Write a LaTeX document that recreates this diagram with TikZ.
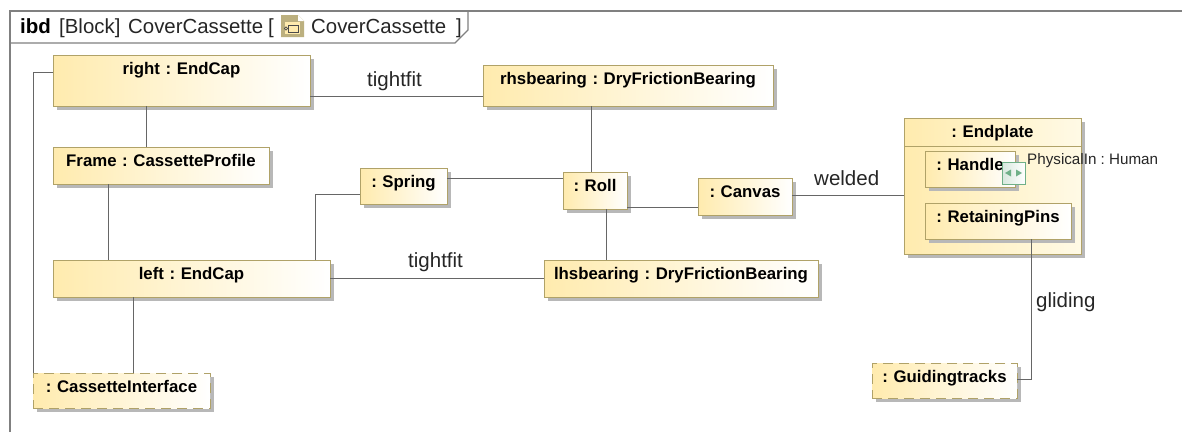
\documentclass[tikz,border=0pt]{standalone}
\usepackage{fontspec}
\setmainfont{Liberation Sans}
\usetikzlibrary{shadows}
\frenchspacing
\definecolor{edge}{HTML}{B0A268}
\definecolor{warm}{HTML}{FFEBAE}
\definecolor{warmlight}{HTML}{FFFAE6}
\definecolor{shadowgray}{HTML}{B8B8B8}
\definecolor{linegray}{HTML}{666666}
\definecolor{framegray}{HTML}{808080}
\definecolor{portgreen}{HTML}{6FB088}
\definecolor{portfill}{HTML}{D8E8DE}
\tikzset{
  x=1pt,y=-1pt,
  partbox/.style={draw=edge,line width=1pt,left color=warm,right color=white,
    inner sep=0pt,outer sep=0pt,anchor=north west,align=center,
    font=\fontsize{16.8}{19}\bfseries\selectfont,
    drop shadow={shadow xshift=3.5pt,shadow yshift=-3.5pt,fill=shadowgray,opacity=1}},
  ifacebox/.style={partbox,dash pattern=on 10pt off 6pt},
  link/.style={draw=linegray,line width=1pt},
  connlabel/.style={font=\fontsize{20.5}{23}\selectfont,text=black!85,inner sep=0pt,anchor=base west},
  headtext/.style={font=\fontsize{20.4}{23}\selectfont,text=black!85,inner sep=0pt,anchor=base west},
}
\newcommand{\partnode}[7][partbox]{%
  \pgfmathsetmacro{\pw}{#5-#3}\pgfmathsetmacro{\ph}{#6-#4}\pgfmathsetmacro{\pd}{\ph-19.5}%
  \node[#1,text width=\pw pt,text height=19.5pt,text depth=\pd pt] (#2) at (#3,#4) {#7};}
\begin{document}
\begin{tikzpicture}
\useasboundingbox (0,0) rectangle (1182,432);
\fill[white] (0,0) rectangle (1182,432);
% diagram frame
\coordinate (fbl) at (10,432);
\coordinate (ftr) at (1182,11);
\coordinate (ftl) at (10,11);
\coordinate (hn1) at (10,43);
\coordinate (hn2) at (455,43);
\coordinate (hn3) at (468,30);
\coordinate (hn4) at (468,11);
\draw[framegray,line width=1.1pt] (fbl) -- (ftl) -- (ftr);
\draw[framegray,line width=1.1pt] (hn1) -- (hn2) -- (hn3) -- (hn4);
\node[headtext,font=\fontsize{20.5}{23}\bfseries\selectfont,text=black] (hibd) at (20,33) {ibd};
\node[headtext] (hblock) at (59,33) {[Block]};
\node[headtext] (hname) at (128,33) {CoverCassette};
\node[headtext] (hbr) at (268,33) {[};
\node[headtext] (hname2) at (311,33) {CoverCassette};
\node[headtext] (hbr2) at (456,33) {]};
% header icon
\fill[fill=edge!85] (281,15) -- (298,15) -- (304,21) -- (304,37) -- (281,37) -- cycle;
\fill[white] (298,15) -- (304,21) -- (298,21) -- cycle;
\fill[warm] (285,22) rectangle (300,34);
\draw[black!70,line width=.7pt] (288,25) rectangle (298,32);
\draw[black!70,line width=.7pt,fill=warm] (286,28.5) circle (1.6);
% parts
\partnode{right}{53}{55}{310}{106}{right : EndCap}
\partnode{frameprof}{53}{147}{269}{184}{Frame : CassetteProfile}
\partnode{spring}{360}{168}{447}{204}{: Spring}
\partnode{leftcap}{53}{260}{330}{297}{left : EndCap}
\partnode[ifacebox]{cassette}{33}{373}{210}{408}{: CassetteInterface}
\partnode{rhs}{483}{65}{773}{106}{rhsbearing : DryFrictionBearing}
\partnode{roll}{563}{172}{627}{209}{: Roll}
\partnode{canvas}{698}{178}{792}{215}{: Canvas}
\partnode{lhs}{544}{260}{818}{297}{lhsbearing : DryFrictionBearing}
\partnode[partbox,right color=warmlight]{endplate}{904}{118}{1081}{254}{: Endplate}
\draw[edge,line width=1pt] (endplate.west |- 0,146) -- (endplate.east |- 0,146);
\partnode{handle}{925}{151}{1015}{187}{: Handle}
\partnode{pins}{925}{203}{1071}{239}{: RetainingPins}
\partnode[ifacebox]{tracks}{872}{363}{1017}{398}{: Guidingtracks}
% port
\node[draw=portgreen,line width=1pt,left color=portfill,right color=white,inner sep=0pt,outer sep=0pt,
  minimum width=23pt,minimum height=22pt,anchor=north west] (port) at (1002,162) {};
\fill[portgreen] (1005,173) -- (1011,169.5) -- (1011,176.5) -- cycle;
\fill[portgreen] (1022,173) -- (1016,169.5) -- (1016,176.5) -- cycle;
\node[font=\fontsize{15.2}{17}\selectfont,text=black!85,inner sep=0pt,anchor=base west] (portlabel) at (1027,164) {PhysicalIn : Human};
% connectors
\draw[link] (right.west |- 0,72) -- (33,72) -- (33,0 |- cassette.north);
\draw[link] (146,0 |- right.south) -- (146,0 |- frameprof.north);
\draw[link] (108,0 |- frameprof.south) -- (108,0 |- leftcap.north);
\draw[link] (133,0 |- leftcap.south) -- (133,0 |- cassette.north);
\draw[link] (315,0 |- leftcap.north) -- (315,194) -- (spring.west |- 0,194);
\draw[link] (spring.east |- 0,178) -- (roll.west |- 0,178);
\draw[link] (right.east |- 0,96) -- (rhs.west |- 0,96);
\draw[link] (leftcap.east |- 0,278) -- (lhs.west |- 0,278);
\draw[link] (591,0 |- rhs.south) -- (591,0 |- roll.north);
\draw[link] (606,0 |- roll.south) -- (606,0 |- lhs.north);
\draw[link] (roll.east |- 0,207) -- (canvas.west |- 0,207);
\draw[link] (canvas.east |- 0,195) -- (endplate.west |- 0,195);
\draw[link] (1031,0 |- pins.south) -- (1031,379) -- (tracks.east |- 0,379);
% connector labels
\node[connlabel] (lbl1) at (367,86) {tightfit};
\node[connlabel] (lbl2) at (408,267) {tightfit};
\node[connlabel] (lbl3) at (814,185) {welded};
\node[connlabel] (lbl4) at (1036,307) {gliding};
\end{tikzpicture}
\end{document}
